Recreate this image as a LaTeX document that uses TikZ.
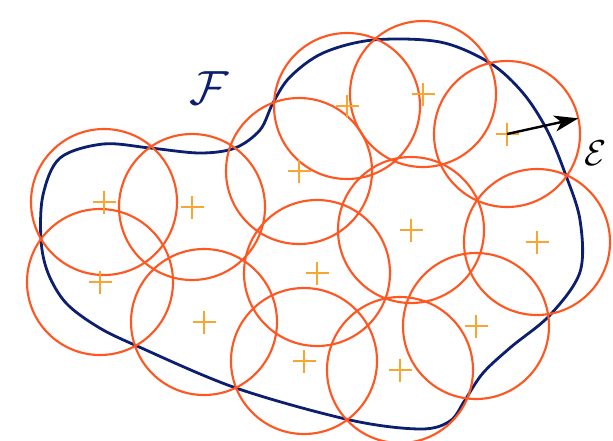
\documentclass[tikz,border=0pt]{standalone}
\usetikzlibrary{arrows.meta}
\definecolor{discorange}{HTML}{FF5722}
\definecolor{centreyellow}{HTML}{F7A632}
\definecolor{setnavy}{HTML}{0B1F6E}

\begin{document}
\begin{tikzpicture}[x=0.75pt, y=-0.75pt,
  disc/.style={discorange, line width=1.6pt},
  centre/.style={centreyellow, line width=1.8pt}]
  \useasboundingbox (0,0) rectangle (613,440);
  % Set F
  \draw[setnavy, line width=2.1pt] plot[smooth cycle, tension=0.55] coordinates {
    (41,240) (43,195) (60,158) (103,144) (150,148) (200,153) (235,148)
    (260,130) (273,103) (290,77) (323,53) (373,40) (440,42) (490,63)
    (523,93) (547,130) (565,173) (580,220) (580,272) (550,315) (511,347)
    (483,373) (465,400) (450,421) (420,429) (350,420) (236,388) (137,346)
    (98,327) (66,303) (48,273)};
  \node[setnavy, scale=3.6] (flabel) at (209,88) {$\mathcal{F}$};
  % Covering discs of radius epsilon
  \foreach \x/\y [count=\i] in {104/202, 192/207, 100/282, 204/322, 299/171,
      347/106, 423/94, 507/134, 317/273, 411/230, 537/242, 304/361,
      400/370, 476/326} {
    \coordinate (c\i) at (\x,\y);
    \draw[disc] (c\i) circle[radius=73];
  }
  % Centres
  \foreach \i in {1,...,14} {
    \draw[centre] (c\i) +(-11.5,0) -- +(11.5,0) (c\i) +(0,-11.5) -- +(0,11.5);
  }
  % Radius
  \path (c8) ++(-12.4:73) coordinate (rim);
  \draw[-{Stealth[length=18pt, width=12pt, inset=5pt]}, line width=1.8pt] (c8) -- (rim);
  \node[scale=2.7] (epslabel) at (596,153) {$\mathcal{E}$};
\end{tikzpicture}
\end{document}
